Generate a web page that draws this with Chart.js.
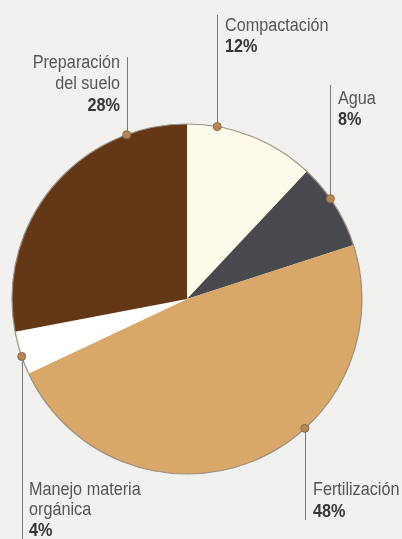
<!DOCTYPE html>
<html>
<head>
<meta charset="utf-8">
<script src="https://cdn.jsdelivr.net/npm/chart.js@4/dist/chart.umd.min.js"></script>
<style>
  html, body { margin: 0; padding: 0; background: #f1f1ef; }
  #wrap { position: relative; width: 402px; height: 539px; }
</style>
</head>
<body>
<div id="wrap"><canvas id="c" width="402" height="539"></canvas></div>
<script>
// ---- data ----
const categories = ['Compactación', 'Agua', 'Fertilización', 'Manejo materia orgánica', 'Preparación del suelo'];
const labelLines = [['Compactación'], ['Agua'], ['Fertilización'], ['Manejo materia', 'orgánica'], ['Preparación', 'del suelo']];
const values = [12, 8, 48, 4, 28];
const colors = ['#fffbea', '#48494e', '#d9a868', '#ffffff', '#643817'];

// ---- label layout (annotation style) ----
const anchorFrac = [0.23, 0.41, 0.38, 0.42, 0.80];
const lineEndY  = [15, 85, 520, 539, 57];
const textAlign = ['left', 'left', 'left', 'left', 'right'];
const textOff   = [8, 8, 8, 7, -7];
const textBase  = [[31, 52], [104, 125], [495, 517], [495, 515, 536], [68, 89, 111]];

const calloutPlugin = {
  id: 'callouts',
  afterDatasetsDraw(chart) {
    const ctx = chart.ctx;
    const meta = chart.getDatasetMeta(0);
    const a0 = meta.data[0];
    ctx.save();
    // outer rim
    ctx.beginPath();
    ctx.arc(a0.x, a0.y, a0.outerRadius, 0, Math.PI * 2);
    ctx.strokeStyle = '#9a8f80';
    ctx.lineWidth = 1.2;
    ctx.stroke();
    meta.data.forEach((arc, i) => {
      const ang = arc.startAngle + anchorFrac[i] * (arc.endAngle - arc.startAngle);
      const px = arc.x + Math.cos(ang) * arc.outerRadius;
      const py = arc.y + Math.sin(ang) * arc.outerRadius;
      // leader line
      ctx.beginPath();
      ctx.moveTo(Math.round(px) + 0.5, py);
      ctx.lineTo(Math.round(px) + 0.5, lineEndY[i]);
      ctx.strokeStyle = '#7a7a78';
      ctx.lineWidth = 1;
      ctx.stroke();
      // dot
      ctx.beginPath();
      ctx.arc(px, py, 4, 0, Math.PI * 2);
      ctx.fillStyle = '#b98552';
      ctx.fill();
      ctx.strokeStyle = '#8a6a4a';
      ctx.lineWidth = 1;
      ctx.stroke();
      // text
      const tx = Math.round(px) + textOff[i];
      const lines = labelLines[i].concat([values[i] + '%']);
      lines.forEach((t, j) => {
        const isPct = j === lines.length - 1;
        ctx.save();
        ctx.translate(tx, textBase[i][j]);
        ctx.scale(0.9, 1);
        ctx.font = (isPct ? 'bold ' : '') + '18px "Liberation Sans", Arial, sans-serif';
        ctx.fillStyle = isPct ? '#363636' : '#555555';
        ctx.textAlign = textAlign[i];
        ctx.textBaseline = 'alphabetic';
        ctx.fillText(t, 0, 0);
        ctx.restore();
      });
    });
    ctx.restore();
  }
};

new Chart(document.getElementById('c'), {
  type: 'pie',
  data: {
    labels: categories,
    datasets: [{
      data: values,
      backgroundColor: colors,
      borderWidth: 0,
      hoverOffset: 0,
      offset: 0
    }]
  },
  options: {
    responsive: false,
    animation: false,
    events: [],
    rotation: 0,
    layout: { padding: { left: 12, right: 40, top: 124, bottom: 65 } },
    plugins: { legend: { display: false }, tooltip: { enabled: false } }
  },
  plugins: [calloutPlugin]
});
</script>
</body>
</html>
